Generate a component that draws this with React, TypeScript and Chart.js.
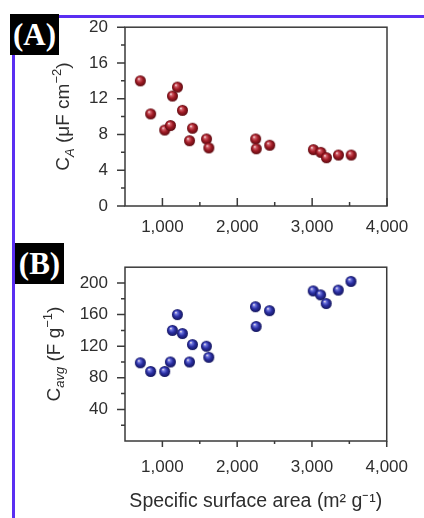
import React, { useEffect, useRef } from 'react';
import { Chart, registerables } from 'chart.js';

Chart.register(...registerables);

// ---- data ----
const SURFACE_AREA = [705, 843, 1031, 1107, 1134, 1201, 1268, 1402, 1362, 1589, 1620, 2245, 2254, 2433, 3017, 3116, 3191, 3352, 3522];
const CA_VALUES = [14.0, 10.3, 8.5, 9.0, 12.3, 13.3, 10.7, 8.7, 7.3, 7.5, 6.5, 7.5, 6.4, 6.8, 6.3, 6.0, 5.4, 5.7, 5.7];
const CAVG_VALUES = [99, 88, 88, 100, 140, 160, 136, 122, 100, 120, 106, 170, 145, 165, 190, 185, 174, 191, 202];

const X_TICKS = [1000, 2000, 3000, 4000];
const X_MINOR = [1500, 2500, 3500];
const CA_TICKS = [0, 4, 8, 12, 16, 20];
const CA_MINOR = [2, 6, 10, 14, 18];
const CAVG_TICKS = [40, 80, 120, 160, 200];
const CAVG_MINOR = [20, 60, 100, 140, 180];

const X_TITLE = 'Specific surface area (m\u00B2 g\u207B\u00B9)';
const CA_TITLE = [
  { text: 'C', kind: 'main' },
  { text: 'A', kind: 'sub' },
  { text: ' (\u03BCF cm', kind: 'main' },
  { text: '\u22122', kind: 'sup' },
  { text: ')', kind: 'main' },
];
const CAVG_TITLE = [
  { text: 'C', kind: 'main' },
  { text: 'avg', kind: 'sub' },
  { text: ' (F g', kind: 'main' },
  { text: '\u22121', kind: 'sup' },
  { text: ')', kind: 'main' },
];

const FONT = "'Liberation Sans', Arial, Helvetica, sans-serif";
const TEXT_COLOR = '#2e2e2e';
const AXIS_COLOR = '#3a3a3a';

function makeSphere(light: string, mid: string, dark: string, r = 5.5) {
  const size = Math.ceil(r * 2) + 2;
  const c = document.createElement('canvas');
  c.width = size;
  c.height = size;
  const g = c.getContext('2d')!;
  const cx = size / 2;
  const cy = size / 2;
  const grad = g.createRadialGradient(cx - r * 0.3, cy - r * 0.4, r * 0.05, cx, cy, r);
  grad.addColorStop(0, '#f4e6e6');
  grad.addColorStop(0.2, light);
  grad.addColorStop(0.55, mid);
  grad.addColorStop(1, dark);
  g.fillStyle = grad;
  g.beginPath();
  g.arc(cx, cy, r, 0, Math.PI * 2);
  g.fill();
  return c;
}

function drawRichVertical(ctx: CanvasRenderingContext2D, segs: any[], baselineX: number, centerY: number, size: number) {
  const fonts: Record<string, string> = {
    main: `${size}px ${FONT}`,
    sub: `italic ${Math.round(size * 0.68)}px ${FONT}`,
    sup: `${Math.round(size * 0.68)}px ${FONT}`,
  };
  const dys: Record<string, number> = { main: 0, sub: size * 0.25, sup: -size * 0.42 };
  let total = 0;
  const widths = segs.map((s) => {
    ctx.font = fonts[s.kind];
    const w = ctx.measureText(s.text).width;
    total += w;
    return w;
  });
  ctx.save();
  ctx.translate(baselineX, centerY);
  ctx.rotate(-Math.PI / 2);
  ctx.textBaseline = 'alphabetic';
  ctx.textAlign = 'left';
  ctx.fillStyle = TEXT_COLOR;
  let x = -total / 2;
  segs.forEach((s, i) => {
    ctx.font = fonts[s.kind];
    ctx.fillText(s.text, x, dys[s.kind]);
    x += widths[i];
  });
  ctx.restore();
}

function decoPlugin(cfg: { xInward: boolean; xMajor: number; xMinorLen: number; yMinor: number[]; yTicks: number[]; title: any[] }) {
  return {
    id: 'deco',
    afterDraw(chart: any) {
      const { ctx, chartArea: a } = chart;
      const xs = chart.scales.x;
      const ys = chart.scales.y;
      ctx.save();
      ctx.strokeStyle = AXIS_COLOR;
      ctx.lineWidth = 1.5;
      ctx.strokeRect(a.left, a.top, a.right - a.left, a.bottom - a.top);
      const dir = cfg.xInward ? -1 : 1;
      ctx.beginPath();
      X_TICKS.forEach((v) => {
        const p = xs.getPixelForValue(v);
        ctx.moveTo(p, a.bottom);
        ctx.lineTo(p, a.bottom + dir * cfg.xMajor);
      });
      X_MINOR.forEach((v) => {
        const p = xs.getPixelForValue(v);
        ctx.moveTo(p, a.bottom);
        ctx.lineTo(p, a.bottom + dir * cfg.xMinorLen);
      });
      cfg.yTicks.forEach((v) => {
        const p = ys.getPixelForValue(v);
        ctx.moveTo(a.left, p);
        ctx.lineTo(a.left - 8, p);
      });
      cfg.yMinor.forEach((v) => {
        const p = ys.getPixelForValue(v);
        ctx.moveTo(a.left, p);
        ctx.lineTo(a.left - 4, p);
      });
      ctx.stroke();
      ctx.restore();
      // y title placed left of the widest tick label
      ctx.save();
      ctx.font = `17px ${FONT}`;
      let maxW = 0;
      cfg.yTicks.forEach((v) => {
        maxW = Math.max(maxW, ctx.measureText(String(v)).width);
      });
      ctx.restore();
      const labelLeft = a.left - 17 - maxW;
      drawRichVertical(ctx, cfg.title, labelLeft - 20, (a.top + a.bottom) / 2, 19);
    },
  };
}

function makeConfig(opts: {
  values: number[];
  sphere: HTMLCanvasElement;
  yMin: number;
  yMax: number;
  yTicks: number[];
  yMinor: number[];
  title: any[];
  topPad: number;
  xHeight: number;
  xPad: number;
  xInward: boolean;
  xMajor: number;
  xMinorLen: number;
  showXTitle: boolean;
}): any {
  return {
    type: 'scatter',
    data: {
      datasets: [
        {
          data: SURFACE_AREA.map((x, i) => ({ x, y: opts.values[i] })),
          pointStyle: opts.sphere,
          pointRadius: 6,
        },
      ],
    },
    options: {
      animation: false,
      responsive: false,
      devicePixelRatio: 1,
      layout: { padding: { top: opts.topPad, right: 37, left: 0, bottom: 0 } },
      plugins: { legend: { display: false }, tooltip: { enabled: false } },
      scales: {
        x: {
          type: 'linear',
          min: 500,
          max: 4000,
          afterBuildTicks: (s: any) => {
            s.ticks = X_TICKS.map((v) => ({ value: v }));
          },
          afterFit: (s: any) => {
            s.height = opts.xHeight;
          },
          grid: { display: false, drawTicks: false },
          border: { display: false },
          ticks: {
            padding: opts.xPad,
            color: TEXT_COLOR,
            font: { size: 17, family: FONT },
            maxRotation: 0,
            autoSkip: false,
            callback: (v: any) => Number(v).toLocaleString('en-US'),
          },
          title: {
            display: opts.showXTitle,
            text: X_TITLE,
            color: TEXT_COLOR,
            font: { size: 19.5, family: FONT },
            padding: { top: 0, bottom: 5 },
          },
        },
        y: {
          type: 'linear',
          min: opts.yMin,
          max: opts.yMax,
          afterBuildTicks: (s: any) => {
            s.ticks = opts.yTicks.map((v) => ({ value: v }));
          },
          afterFit: (s: any) => {
            s.width = 125;
          },
          grid: { display: false, drawTicks: false },
          border: { display: false },
          ticks: {
            padding: 17,
            color: TEXT_COLOR,
            font: { size: 17, family: FONT },
            autoSkip: false,
          },
        },
      },
    },
    plugins: [
      decoPlugin({
        xInward: opts.xInward,
        xMajor: opts.xMajor,
        xMinorLen: opts.xMinorLen,
        yMinor: opts.yMinor,
        yTicks: opts.yTicks,
        title: opts.title,
      }),
    ],
  };
}

export default function App() {
  const refA = useRef<HTMLCanvasElement>(null);
  const refB = useRef<HTMLCanvasElement>(null);

  useEffect(() => {
    const red = makeSphere('#d2606a', '#a21c26', '#5c0a10');
    const blue = makeSphere('#7078e0', '#2c30a4', '#12145c');
    const a = new Chart(
      refA.current!,
      makeConfig({
        values: CA_VALUES,
        sphere: red,
        yMin: 0,
        yMax: 20,
        yTicks: CA_TICKS,
        yMinor: CA_MINOR,
        title: CA_TITLE,
        topPad: 25,
        xHeight: 34,
        xPad: 11,
        xInward: true,
        xMajor: 8,
        xMinorLen: 4,
        showXTitle: false,
      })
    );
    const b = new Chart(
      refB.current!,
      makeConfig({
        values: CAVG_VALUES,
        sphere: blue,
        yMin: 0,
        yMax: 220,
        yTicks: CAVG_TICKS,
        yMinor: CAVG_MINOR,
        title: CAVG_TITLE,
        topPad: 19,
        xHeight: 77,
        xPad: 16,
        xInward: false,
        xMajor: 6,
        xMinorLen: 3,
        showXTitle: true,
      })
    );
    return () => {
      a.destroy();
      b.destroy();
    };
  }, []);

  const labelBox = (left: number, top: number, text: string) => (
    <div
      style={{
        position: 'absolute',
        left,
        top,
        width: 49,
        height: 41,
        background: '#000',
        color: '#fff',
        font: `bold 31px 'Liberation Serif', 'Times New Roman', serif`,
        lineHeight: '41px',
        textAlign: 'center',
      }}
    >
      {text}
    </div>
  );

  return (
    <div style={{ position: 'fixed', left: 0, top: 0, width: 424, height: 518, background: '#fff', overflow: 'hidden' }}>
      <canvas ref={refA} width={424} height={240} style={{ position: 'absolute', left: 0, top: 0, width: 424, height: 240 }} />
      <canvas ref={refB} width={424} height={278} style={{ position: 'absolute', left: 0, top: 240, width: 424, height: 278 }} />
      <div style={{ position: 'absolute', left: 12, top: 15, width: 412, height: 3, background: '#5a2ef2' }} />
      <div style={{ position: 'absolute', left: 12, top: 15, width: 3, height: 503, background: '#5a2ef2' }} />
      {labelBox(10, 14, '(A)')}
      {labelBox(15, 243, '(B)')}
    </div>
  );
}
